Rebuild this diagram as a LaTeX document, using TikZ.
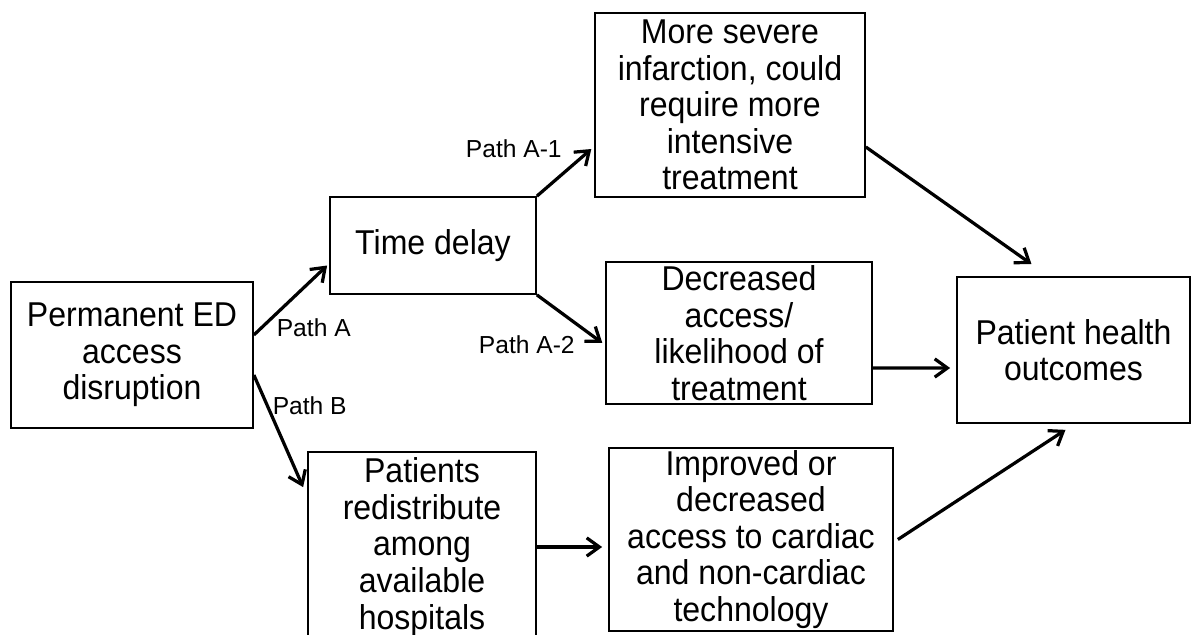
\documentclass[tikz,border=0pt]{standalone}
\usepackage{fontspec}
\setmainfont{Liberation Sans}
\newfontfamily\boxfont[FakeStretch=0.93]{Liberation Sans}
\usetikzlibrary{arrows.meta}

\begin{document}
\begin{tikzpicture}[x=0.025cm, y=-0.025cm,
        box/.style={draw, line width=1.2pt, align=center, inner sep=0pt, font=\boxfont\fontsize{24.5}{26}\selectfont},
        arr/.style={-{Straight Barb[length=9pt,width=13pt]}, line width=2.3pt},
        lbl/.style={font=\fontsize{17.5}{20}\selectfont, inner sep=0pt}]
                    \useasboundingbox (0,0) rectangle (1193,635);

                    \node [box, minimum width=6.05cm, minimum height=3.65cm] (PermED) at (132,355) {Permanent ED\\access\\disruption};
                    \node [box, minimum width=5.15cm, minimum height=2.425cm] (TimeDelay) at (433,245.5) {Time delay};
                    \node [box, minimum width=6.75cm, minimum height=4.6cm] (Severe) at (730,105) {More severe\\infarction, could\\require more\\intensive\\treatment};
                    \node [box, minimum width=6.65cm, minimum height=3.55cm] (Decr) at (739,333) {Decreased\\access/\\likelihood of\\treatment};
                    \node [box, minimum width=5.825cm, minimum height=3.65cm] (Outc) at (1073.5,350) {Patient health\\outcomes};
                    \node [box, minimum width=5.7cm, minimum height=4.75cm] (Redist) at (422,547) {Patients\\redistribute\\among\\available\\hospitals};
                    \node [box, minimum width=7.1cm, minimum height=4.575cm] (Impr) at (751,539.5) {Improved or\\decreased\\access to cardiac\\and non-cardiac\\technology};

                    \draw [arr] ([yshift=0.5cm]PermED.east) -- ([xshift=-0.05cm,yshift=-0.5cm]TimeDelay.west) node [lbl, pos=0.1, anchor=west, xshift=0.35cm] (PathA) {Path A};
                    \draw [arr] ([yshift=-0.5cm]PermED.east) -- ([xshift=-0.1cm,yshift=-0.9cm]Redist.north west) node [lbl, pos=0.27, anchor=west, xshift=0.1cm] (PathB) {Path B};
                    \draw [arr] (TimeDelay.north east) -- ([xshift=-0.07cm,yshift=-1.1cm]Severe.west) node [lbl, pos=1, anchor=east, xshift=-0.7cm] (PathA1) {Path A-1};
                    \draw [arr] (TimeDelay.south east) -- ([xshift=-0.07cm,yshift=-0.25cm]Decr.west) node [lbl, pos=1, anchor=east, xshift=-0.65cm, yshift=-0.05cm] (PathA2) {Path A-2};

                    \draw [arr] ([yshift=-1.05cm]Severe.east) -- ([xshift=-1.05cm,yshift=0.3cm]Outc.north);
                    \draw [arr] ([yshift=-0.875cm]Decr.east) -- ([xshift=-0.15cm,yshift=-0.45cm]Outc.west);
                    \draw [arr, shorten >=0.15cm] (Redist.east) -- (Redist.east -| Impr.west);
                    \draw [arr] ([xshift=0.1cm]Impr.east) -- ([xshift=-0.2cm,yshift=-0.15cm]Outc.south);

\end{tikzpicture}
\end{document}
